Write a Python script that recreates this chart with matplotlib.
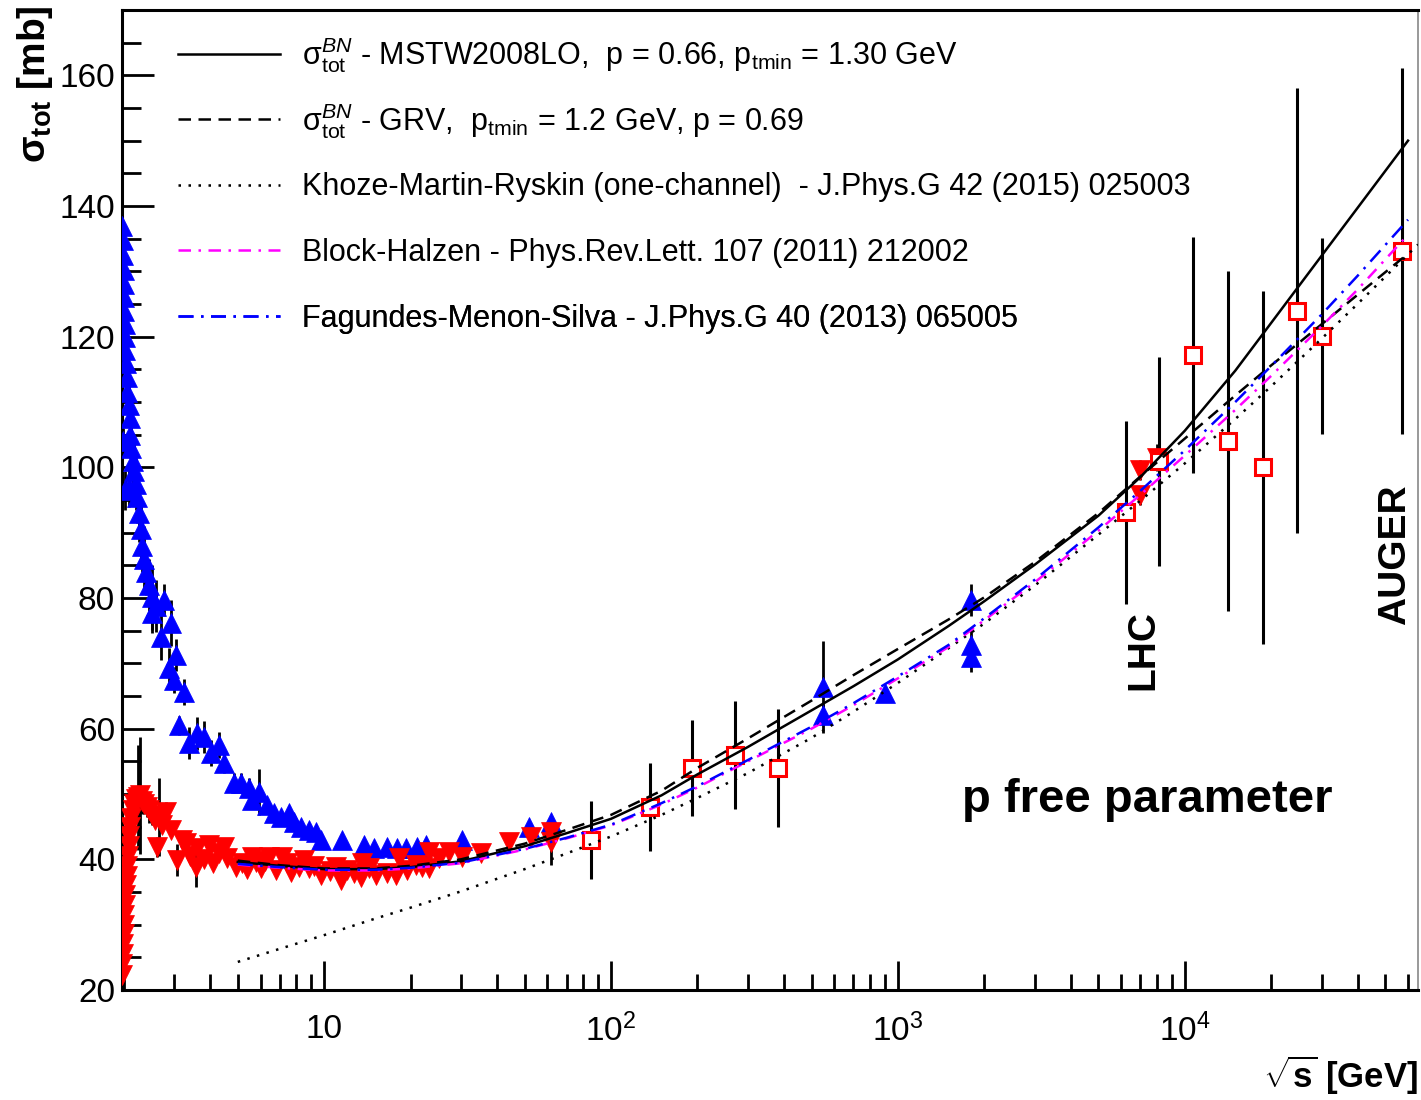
import numpy as np
import matplotlib
matplotlib.use('Agg')
import matplotlib.pyplot as plt
from matplotlib.ticker import FixedLocator, FixedFormatter, LogLocator, NullFormatter, MultipleLocator

matplotlib.rc('font', family='Liberation Sans', size=24)
matplotlib.rc('mathtext', fontset='custom', rm='Liberation Sans',
              it='Liberation Sans:italic', bf='Liberation Sans:bold')

# pbar-p total cross section: sqrt(s) [GeV], sigma [mb], error [mb]
pbarp_x = [1.98, 1.99, 1.99, 2.00, 2.00, 2.01, 2.01, 2.02, 2.02, 2.03, 2.04, 2.05,
           2.06, 2.08, 1.99, 2.10, 2.11, 2.13, 2.15, 2.02, 2.09, 2.17, 2.20, 2.23,
           2.26, 2.30, 2.32, 2.36, 2.39, 2.45, 2.51, 2.51, 2.60, 2.70, 2.76, 2.87,
           2.93, 3.00, 3.05, 3.12, 3.25, 3.38, 3.61, 3.82, 4.04, 4.30, 4.48, 4.85,
           5.13, 5.47, 5.61, 5.93, 6.33, 6.69, 7.08, 7.55, 7.86, 8.31, 8.87, 9.38,
           9.76, 11.56, 13.79, 14.94, 16.58, 17.97, 19.32, 21.1, 22.7, 30.3, 51.9,
           61.9, 546, 546, 900, 1800, 1800, 1800]
pbarp_y = [137.0, 134.8, 132.5, 130.2, 128.0, 126.0, 124.0, 122.0, 120.0, 118.0, 116.0, 113.8,
           111.5, 109.5, 104.0, 107.5, 105.0, 103.0, 101.0, 96.5, 97.0, 99.5, 97.5, 95.5,
           93.0, 90.5, 88.0, 86.0, 84.0, 82.0, 80.1, 77.7, 78.8, 74.0, 79.7, 69.3,
           76.2, 67.4, 71.3, 60.5, 65.6, 57.8, 59.3, 58.7, 56.3, 57.5, 54.7, 51.7,
           51.7, 50.9, 49.1, 50.3, 48.3, 47.1, 46.5, 47.1, 45.7, 44.9, 44.5, 44.2,
           43.0, 43.0, 42.2, 41.7, 41.9, 41.7, 41.7, 41.9, 42.2, 42.95, 44.9,
           45.7, 66.4, 62.1, 65.4, 79.7, 72.8, 71.0]
pbarp_err = [1.5, 1.5, 1.5, 1.5, 1.5, 1.5, 1.5, 2.0, 2.0, 2.0, 2.5, 2.5,
             3.0, 3.0, 2.0, 3.0, 3.5, 3.5, 4.0, 3.0, 3.0, 4.0, 4.0, 4.0,
             4.5, 4.5, 4.0, 5.0, 3.5, 4.0, 5.0, 3.0, 4.0, 3.5, 2.5, 3.0,
             3.5, 2.0, 2.5, 1.5, 2.0, 2.5, 2.5, 2.5, 2.0, 2.0, 1.5, 1.5,
             1.5, 1.5, 1.0, 3.5, 1.0, 1.0, 1.0, 1.0, 1.0, 1.0, 1.0, 1.0,
             0.8, 0.8, 0.5, 0.5, 0.5, 0.5, 0.5, 0.5, 0.5, 0.5, 0.5,
             0.5, 7.0, 1.5, 1.0, 2.4, 2.3, 2.3]

# pp total cross section
pp_x = [1.98, 1.98, 1.99, 1.99, 2.00, 2.01, 2.01, 2.02, 2.03, 2.04, 2.05, 2.06,
        2.07, 2.08, 2.09, 2.11, 2.13, 2.15, 2.18, 2.21, 2.24, 2.28, 2.32, 2.36,
        2.41, 2.46, 2.52, 2.58, 2.62, 2.66, 2.72, 2.81, 2.93, 3.07, 3.20, 3.30,
        3.40, 3.58, 3.61, 3.80, 3.97, 4.10, 4.30, 4.48, 4.60, 4.93, 5.18, 5.40,
        5.61, 5.80, 6.03, 6.20, 6.43, 6.80, 7.14, 7.40, 7.67, 8.18, 8.50, 8.86,
        9.20, 9.76, 10.5, 11.0, 11.46, 12.0, 12.7, 13.46, 13.57, 14.3, 15.18,
        16.58, 17.83, 18.26, 19.5, 20.94, 22.0, 23.24, 23.24, 25.18, 27.29, 30.3,
        35.3, 44.2, 52.7, 61.9, 61.9, 7000, 7000, 8000]
pp_y = [22.3, 24.0, 25.5, 27.0, 28.5, 30.0, 31.5, 33.0, 34.5, 36.0, 37.5, 39.0,
        40.5, 42.0, 43.5, 45.0, 46.3, 47.5, 48.5, 49.2, 49.5, 49.8, 49.0, 48.5,
        48.0, 47.5, 46.8, 46.0, 41.9, 46.5, 45.3, 47.2, 44.5, 39.9, 43.0, 42.5,
        40.5, 38.8, 41.7, 40.0, 42.2, 39.5, 41.0, 41.9, 40.2, 38.8, 39.4, 38.5,
        40.3, 39.6, 38.7, 39.8, 40.3, 38.4, 40.3, 39.5, 38.1, 38.8, 39.9, 38.7,
        39.0, 37.6, 38.2, 38.8, 36.8, 38.4, 37.9, 37.3, 39.4, 38.6, 37.6,
        37.9, 37.6, 40.2, 38.3, 39.1, 38.8, 41.1, 38.7, 40.2, 41.1, 40.3,
        41.0, 42.6, 43.4, 44.2, 42.6, 99.6, 95.7, 101.5]
pp_err = [0.5, 0.5, 0.5, 0.5, 0.5, 0.5, 0.5, 0.5, 0.5, 0.5, 0.5, 0.5,
          0.5, 0.5, 0.5, 0.5, 0.5, 1.0, 1.0, 1.0, 8.0, 9.0, 2.0, 1.5,
          1.5, 2.0, 1.5, 1.0, 1.5, 6.0, 1.0, 1.5, 1.0, 2.5, 1.0, 1.0,
          1.0, 3.0, 1.0, 1.0, 1.0, 1.0, 1.0, 1.0, 0.8, 1.0, 0.8, 0.8,
          0.8, 0.8, 0.8, 0.8, 0.8, 0.8, 0.8, 0.8, 0.8, 0.8, 0.8, 0.6,
          0.6, 0.6, 0.5, 0.5, 0.5, 0.5, 0.5, 0.5, 0.5, 0.5, 0.5,
          0.5, 0.5, 0.5, 0.5, 0.5, 0.5, 0.5, 0.5, 0.5, 0.5, 0.5,
          0.5, 0.5, 0.5, 0.5, 3.5, 1.5, 1.5, 2.0]

# cosmic-ray derived pp cross sections
cr_x = [85.3, 137, 192, 271, 383, 6223, 8110, 10660, 14114, 18693, 24570, 30030, 57080]
cr_y = [42.95, 48.0, 54.0, 56.0, 54.0, 93.1, 100.9, 117.2, 104.0, 100.0, 124.0, 120.1, 133.1]
cr_err = [6.0, 6.8, 7.3, 8.3, 9.0, 14.0, 16.0, 18.0, 26.0, 27.0, 34.0, 15.0, 28.0]

# model curves on a common sqrt(s) grid
grid = [5, 7, 10, 15, 20, 30, 50, 70, 100, 150, 200, 300, 500, 700, 1000, 1500,
        2000, 3000, 5000, 7000, 10000, 15000, 20000, 30000, 40000, 60000]
mstw = [39.6, 39.0, 38.5, 38.5, 38.8, 39.7, 42.0, 44.0, 46.2, 49.8, 53.0, 57.2,
        62.8, 66.5, 70.6, 75.7, 79.5, 85.1, 92.6, 98.5, 105.6, 114.8, 122.1, 132.4,
        139.7, 150.0]
grv = [39.8, 39.1, 38.6, 38.6, 39.0, 40.0, 42.4, 44.5, 46.8, 50.5, 54.0, 58.5,
       64.3, 68.2, 72.2, 76.7, 80.1, 85.5, 93.0, 98.6, 104.4, 111.0, 115.6, 121.9,
       126.4, 132.7]
bh = [39.2, 38.7, 38.3, 38.3, 38.6, 39.4, 41.5, 43.2, 45.2, 48.4, 51.0, 55.0,
      60.0, 63.6, 67.7, 72.5, 76.6, 82.4, 90.3, 95.8, 101.8, 108.8, 114.0, 121.6,
      127.2, 135.6]
fms = [39.3, 38.8, 38.4, 38.4, 38.7, 39.5, 41.6, 43.3, 45.3, 48.6, 51.2, 55.2,
       60.3, 63.9, 68.0, 72.8, 76.9, 82.8, 90.8, 96.4, 102.6, 110.0, 115.5, 123.4,
       129.3, 137.9]
kmr_x = grid + [65000]
kmr = [24.3, 26.3, 28.4, 30.9, 32.6, 35.1, 38.5, 40.9, 43.5, 46.8, 49.4, 53.2,
       58.6, 62.6, 67.0, 72.3, 76.1, 81.9, 89.7, 94.9, 100.6, 107.4, 112.4, 119.7,
       125.0, 132.6, 134.1]

labels = [r'σ$^{BN}_{\rm tot}$ - MSTW2008LO,  p = 0.66, p$_{\rm tmin}$ = 1.30 GeV',
          r'σ$^{BN}_{\rm tot}$ - GRV,  p$_{\rm tmin}$ = 1.2 GeV, p = 0.69',
          'Khoze-Martin-Ryskin (one-channel)  - J.Phys.G 42 (2015) 025003',
          'Block-Halzen - Phys.Rev.Lett. 107 (2011) 212002',
          'Fagundes-Menon-Silva - J.Phys.G 40 (2013) 065005']
xtick_vals = [10, 100, 1000, 10000]
xtick_labels = ['10', r'$10^{2}$', r'$10^{3}$', r'$10^{4}$']

fig = plt.figure(figsize=(14.21, 11.0), dpi=100)
ax = fig.add_axes([122/1421, 0.1, 1296/1421, 980/1100])
ax.set_xscale('log')
ax.set_xlim(1.974, 65000)
ax.set_ylim(20, 170)

# data points with error bars
ax.errorbar(pbarp_x, pbarp_y, yerr=pbarp_err, fmt='none', ecolor='k', elinewidth=2, zorder=2)
ax.errorbar(pp_x, pp_y, yerr=pp_err, fmt='none', ecolor='k', elinewidth=2, zorder=2)
ax.errorbar(cr_x, cr_y, yerr=cr_err, fmt='none', ecolor='k', elinewidth=2.2, zorder=2)
ax.plot(pbarp_x, pbarp_y, ls='none', marker='^', ms=14, color='#0000ff', mec='#0000ff', mew=0.5, zorder=3)
ax.plot(pp_x, pp_y, ls='none', marker='v', ms=14, color='#ff0000', mec='#ff0000', mew=0.5, zorder=3)
ax.plot(cr_x, cr_y, ls='none', marker='s', ms=12, mfc='white', mec='#ff0000', mew=2.2, zorder=3)

# model curves
l1, = ax.plot(grid, mstw, color='k', lw=1.8, zorder=5)
l2, = ax.plot(grid, grv, color='k', lw=1.8, ls=(0, (5, 3)), zorder=5)
l3, = ax.plot(kmr_x, kmr, color='k', lw=1.8, ls=(0, (1, 3)), zorder=5)
l4, = ax.plot(grid, bh, color='#ff00ff', lw=1.8, ls=(0, (5, 3, 1, 3)), zorder=5)
l5, = ax.plot(grid, fms, color='#0000ff', lw=1.8, ls=(0, (6, 3, 1, 3)), zorder=5)

# one legend per row so the rows stay evenly spaced
rows = [0.954, 0.887, 0.819, 0.752, 0.685]
for h, lab, yy in zip([l1, l2, l3, l4, l5], labels, rows):
    leg = ax.legend([h], [lab], loc='center left', bbox_to_anchor=(0.0432, yy),
                    frameon=False, borderpad=0, borderaxespad=0, fontsize=22,
                    handlelength=3.34, handletextpad=0.72)
    ax.add_artist(leg)

ax.text(0.648, 0.194, 'p free parameter', transform=ax.transAxes, fontsize=34,
        fontweight='bold', va='center', ha='left')
ax.text(0.788, 0.347, 'LHC', transform=ax.transAxes, fontsize=28, fontweight='bold',
        rotation=90, va='center', ha='center')
ax.text(0.982, 0.444, 'AUGER', transform=ax.transAxes, fontsize=28, fontweight='bold',
        rotation=90, va='center', ha='center')

# axes styling
ax.xaxis.set_major_locator(FixedLocator(xtick_vals))
ax.xaxis.set_major_formatter(FixedFormatter(xtick_labels))
ax.xaxis.set_minor_locator(LogLocator(base=10, subs=np.arange(2, 10), numticks=20))
ax.xaxis.set_minor_formatter(NullFormatter())
ax.yaxis.set_major_locator(MultipleLocator(20))
ax.yaxis.set_minor_locator(MultipleLocator(5))
ax.tick_params(axis='x', which='major', direction='in', length=21, width=2, pad=17, labelsize=24)
ax.tick_params(axis='x', which='minor', direction='in', length=11.5, width=2)
ax.tick_params(axis='y', which='major', direction='in', length=23, width=2, pad=5, labelsize=24)
ax.tick_params(axis='y', which='minor', direction='in', length=14, width=2)
for side in ['left', 'bottom', 'top']:
    ax.spines[side].set_linewidth(2.2)
ax.spines['right'].set_linewidth(1.2)
ax.spines['right'].set_color('#888888')

fig.text(35/1421, 1 - 5/1100, r'σ$_{\mathbf{tot}}$ [mb]', rotation=90, fontsize=28,
         fontweight='bold', ha='center', va='top')
fig.text(1418/1421, 1 - 1075/1100, r'$\sqrt{\mathbf{s}}$ [GeV]', fontsize=25,
         fontweight='bold', ha='right', va='center')

fig.savefig('out.png', dpi=100)
